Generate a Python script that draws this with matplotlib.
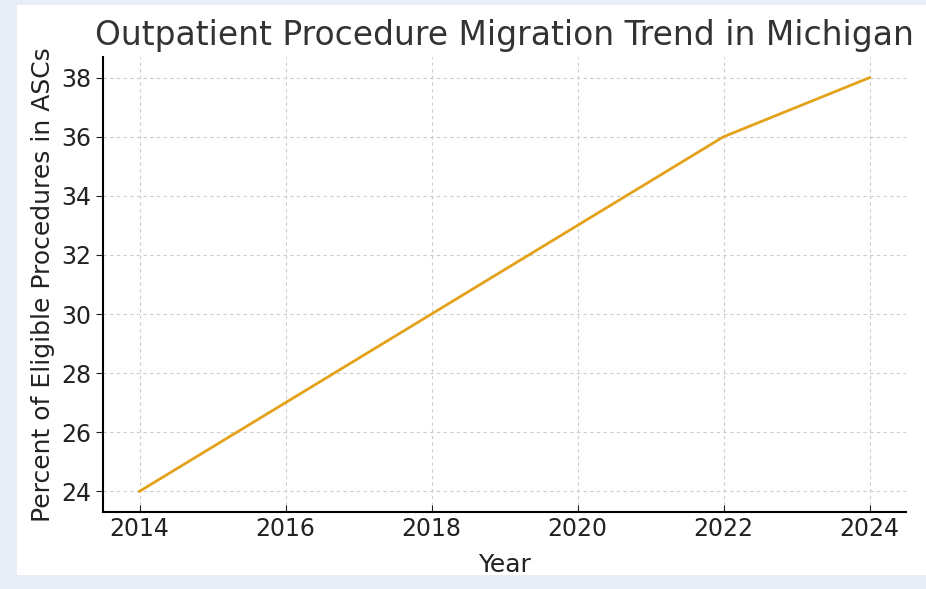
import matplotlib
matplotlib.use('Agg')
import matplotlib.pyplot as plt
from matplotlib.patches import Rectangle

years = [2014, 2016, 2018, 2020, 2022, 2024]
percent_asc = [24, 27, 30, 33, 36, 38]
x_ticks = [2014, 2016, 2018, 2020, 2022, 2024]
y_ticks = [24, 26, 28, 30, 32, 34, 36, 38]

W, H = 926, 589
fig = plt.figure(figsize=(W / 100, H / 100), dpi=100, facecolor='#e8eef7')
# white card on the light blue page
fig.patches.append(Rectangle((17 / W, 14 / H), 1 - 17 / W, 1 - 14 / H - 5 / H,
                             transform=fig.transFigure, facecolor='white',
                             edgecolor='none', zorder=-5))

ax = fig.add_axes([103 / W, 77 / H, (906 - 103) / W, (512 - 57) / H])
ax.set_zorder(2)
ax.set_facecolor('white')
ax.plot(years, percent_asc, color='#e3a21a', linewidth=2.0)

ax.set_xticks(x_ticks)
ax.set_yticks(y_ticks)
ax.tick_params(axis='x', direction='in', labelsize=17, colors='#222222', length=5)
ax.tick_params(axis='y', direction='out', labelsize=17, colors='#222222', length=5)
ax.spines['top'].set_visible(False)
ax.spines['right'].set_visible(False)
ax.spines['left'].set_linewidth(1.5)
ax.spines['bottom'].set_linewidth(1.5)
ax.grid(True, linestyle=(0, (3, 3)), color='#cccccc', linewidth=0.8)

ax.set_title('Outpatient Procedure Migration Trend in Michigan', fontsize=23.7,
             color='#333333', pad=9)
ax.set_xlabel('Year', fontsize=18, color='#222222', labelpad=9)
ax.set_ylabel('Percent of Eligible Procedures in ASCs', fontsize=18,
              color='#222222', labelpad=4.5)

plt.savefig('out.png', dpi=100, facecolor=fig.get_facecolor())
